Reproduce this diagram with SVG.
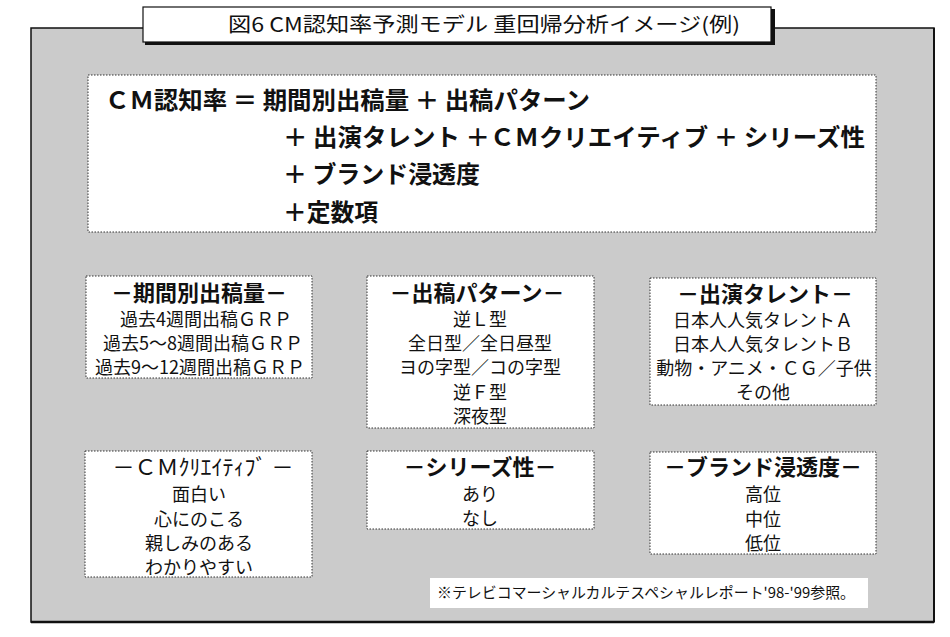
<svg xmlns="http://www.w3.org/2000/svg" width="950" height="637" viewBox="0 0 950 637">
<defs>
<style>
text{font-family:"Noto Sans CJK JP","Noto Sans CJK SC",sans-serif;fill:#111;}
.box{fill:#fff;stroke:#333;stroke-width:1;stroke-dasharray:1.5,1.5;}
.f{font-size:24px;font-weight:bold;}
.h{font-size:22px;font-weight:bold;text-anchor:middle;}
.i{font-size:18px;text-anchor:middle;}
</style>
</defs>
<rect width="950" height="637" fill="#fff"/>
<g id="frame">
<rect x="31" y="28" width="903" height="594" fill="#cbcbcb" stroke="#111" stroke-width="1.5"/>
<line x1="31" y1="622" x2="934" y2="622" stroke="#111" stroke-width="2.5"/>
<line x1="934" y1="28" x2="934" y2="622" stroke="#111" stroke-width="2"/>
</g>
<g id="title">
<rect x="145" y="9" width="630" height="36" fill="#111"/>
<rect x="143" y="7" width="628" height="35" fill="#fff" stroke="#111" stroke-width="1.2"/>
<text x="228" y="32" font-size="20" textLength="512" lengthAdjust="spacingAndGlyphs">図6 CM認知率予測モデル 重回帰分析イメージ(例)</text>
</g>
<g id="formula">
<rect class="box" x="88" y="75" width="788" height="157"/>
<text class="f" x="105" y="109" textLength="485" lengthAdjust="spacingAndGlyphs">ＣＭ認知率 ＝ 期間別出稿量 ＋ 出稿パターン</text>
<text class="f" x="283" y="146" textLength="582" lengthAdjust="spacingAndGlyphs">＋ 出演タレント ＋ＣＭクリエイティブ ＋ シリーズ性</text>
<text class="f" x="283" y="183" textLength="197" lengthAdjust="spacingAndGlyphs">＋ ブランド浸透度</text>
<text class="f" x="283" y="221" textLength="95" lengthAdjust="spacingAndGlyphs">＋定数項</text>
</g>
<g id="node-kikan">
<rect class="box" x="86" y="276" width="226" height="102"/>
<text class="h" x="199" y="301">－期間別出稿量－</text>
<text class="i" x="206" y="326">過去4週間出稿ＧＲＰ</text>
<text class="i" x="203" y="350">過去5～8週間出稿ＧＲＰ</text>
<text class="i" x="200" y="374">過去9～12週間出稿ＧＲＰ</text>
</g>
<g id="node-pattern">
<rect class="box" x="367" y="276" width="227" height="152"/>
<text class="h" x="477" y="301">－出稿パターン－</text>
<text class="i" x="480" y="326">逆Ｌ型</text>
<text class="i" x="480" y="350">全日型／全日昼型</text>
<text class="i" x="480" y="374">ヨの字型／コの字型</text>
<text class="i" x="480" y="399">逆Ｆ型</text>
<text class="i" x="480" y="423">深夜型</text>
</g>
<g id="node-talent">
<rect class="box" x="650" y="278" width="226" height="127"/>
<text class="h" x="765" y="302">－出演タレント－</text>
<text class="i" x="763" y="327">日本人人気タレントＡ</text>
<text class="i" x="763" y="351">日本人人気タレントＢ</text>
<text class="i" x="764" y="375">動物・アニメ・ＣＧ／子供</text>
<text class="i" x="763" y="399">その他</text>
</g>
<g id="node-creative">
<rect class="box" x="85" y="451" width="227" height="126"/>
<text class="h" x="203" y="475" style="font-weight:normal">－ＣＭｸﾘｴｲﾃｨﾌﾞ －</text>
<text class="i" x="199" y="501">面白い</text>
<text class="i" x="199" y="526">心にのこる</text>
<text class="i" x="199" y="550">親しみのある</text>
<text class="i" x="199" y="574">わかりやすい</text>
</g>
<g id="node-series">
<rect class="box" x="367" y="451" width="227" height="78"/>
<text class="h" x="480" y="475">－シリーズ性－</text>
<text class="i" x="480" y="501">あり</text>
<text class="i" x="480" y="525">なし</text>
</g>
<g id="node-brand">
<rect class="box" x="650" y="452" width="226" height="102"/>
<text class="h" x="763" y="475">－ブランド浸透度－</text>
<text class="i" x="763" y="501">高位</text>
<text class="i" x="763" y="526">中位</text>
<text class="i" x="763" y="550">低位</text>
</g>
<g id="footnote">
<rect x="430" y="578" width="438" height="30" fill="#fff"/>
<text x="437" y="598" font-size="15" textLength="418" lengthAdjust="spacingAndGlyphs">※テレビコマーシャルカルテスペシャルレポート'98-'99参照。</text>
</g>
<g id="connectors"></g>
</svg>
